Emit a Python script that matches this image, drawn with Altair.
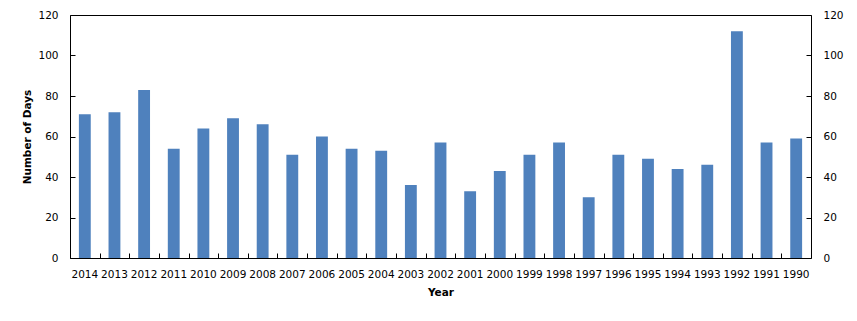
import altair as alt
import pandas as pd

years = [str(y) for y in range(2014, 1989, -1)]
days = [71, 72, 83, 54, 64, 69, 66, 51, 60, 54, 53, 36, 57, 33, 43, 51, 57, 30, 51, 49, 44, 46, 112, 57, 59]
y_ticks = [0, 20, 40, 60, 80, 100, 120]

df = pd.DataFrame({"Year": years, "Days": days})

W, H = 741, 243
STEP = W / len(years)
FONT = "DejaVu Sans"
FS = 10.5
BAR = "#4F81BD"

xscale = alt.Scale(paddingInner=0.6, paddingOuter=0.3)
yscale = alt.Scale(domain=[0, 120], nice=False)

base = alt.Chart(df)

main = base.mark_bar(color=BAR).encode(
    x=alt.X("Year:N", sort=None, scale=xscale,
            axis=alt.Axis(title="Year", orient="bottom", ticks=False, domain=False,
                          labelAngle=0, labelPadding=11, titlePadding=8,
                          labelOverlap=False, labelFontSize=FS)),
    y=alt.Y("Days:Q", scale=yscale,
            axis=alt.Axis(title="Number of Days", orient="left", values=y_ticks,
                          ticks=False, domain=False, grid=False, labelPadding=12,
                          titlePadding=5, labelFontSize=FS)),
)

right_axis = base.mark_bar(opacity=0).encode(
    x=alt.X("Year:N", sort=None, scale=xscale, axis=None),
    y=alt.Y("Days:Q", scale=yscale,
            axis=alt.Axis(title=None, orient="right", values=y_ticks, ticks=False,
                          domain=False, grid=False, labelPadding=12, labelFontSize=FS)),
)

left_ticks = base.mark_bar(opacity=0).encode(
    x=alt.X("Year:N", sort=None, scale=xscale, axis=None),
    y=alt.Y("Days:Q", scale=yscale,
            axis=alt.Axis(title=None, orient="right", offset=-W, values=y_ticks,
                          ticks=True, tickSize=5, labels=False, domain=False,
                          grid=False, tickColor="black")),
)

right_ticks = base.mark_bar(opacity=0).encode(
    x=alt.X("Year:N", sort=None, scale=xscale, axis=None),
    y=alt.Y("Days:Q", scale=yscale,
            axis=alt.Axis(title=None, orient="left", offset=-W, values=y_ticks,
                          ticks=True, tickSize=5, labels=False, domain=False,
                          grid=False, tickColor="black")),
)

x_ticks = base.mark_bar(opacity=0).encode(
    x=alt.X("Year:N", sort=None, scale=xscale,
            axis=alt.Axis(title=None, orient="top", offset=-H, ticks=True,
                          tickSize=5, tickOffset=-STEP / 2, labels=False,
                          domain=False, tickColor="black")),
    y=alt.Y("Days:Q", scale=yscale, axis=None),
)

chart = (
    alt.layer(main, right_axis, left_ticks, right_ticks, x_ticks)
    .resolve_scale(x="shared", y="shared")
    .resolve_axis(x="independent", y="independent")
    .properties(
        width=W, height=H,
        autosize=alt.AutoSizeParams(type="none"),
        padding={"left": 62, "top": 7, "right": 38, "bottom": 50},
    )
    .configure_view(stroke="black", strokeWidth=1)
    .configure_axis(labelFont=FONT, titleFont=FONT, labelColor="black",
                    titleColor="black", titleFontSize=FS, titleFontWeight="bold")
)

chart.save("out.html", embed_options={"renderer": "svg", "actions": False})
